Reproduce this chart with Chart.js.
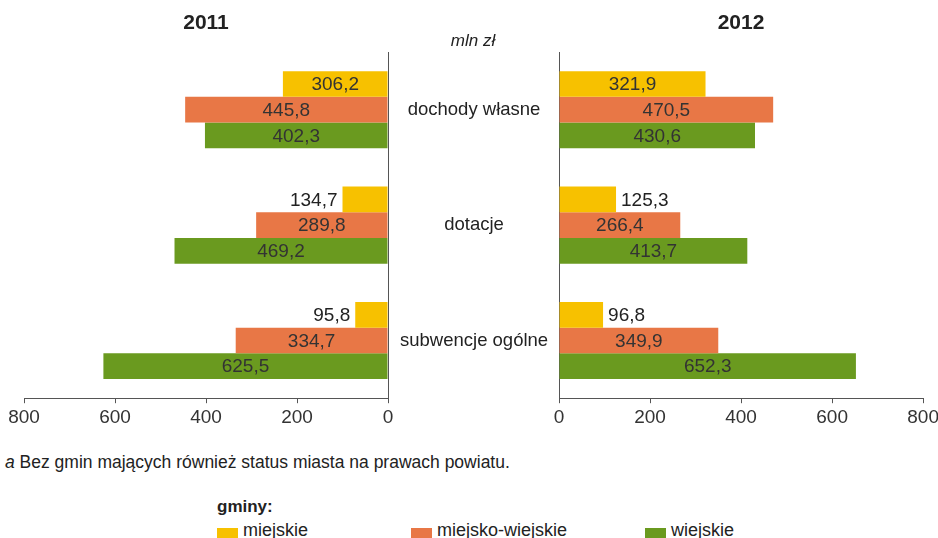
<!DOCTYPE html>
<html lang="pl">
<head>
<meta charset="utf-8">
<title>Dochody gmin 2011-2012</title>
<script src="https://cdn.jsdelivr.net/npm/chart.js@4.4.1/dist/chart.umd.min.js"></script>
<style>
  body { margin: 0; background: #fff; font-family: Arial, "Liberation Sans", sans-serif; color: #222; }
  #wrap { position: relative; width: 938px; height: 538px; overflow: hidden; }
  .abs { position: absolute; white-space: nowrap; }
  .rok { font-weight: bold; font-size: 21px; line-height: 24px; width: 120px; text-align: center; top: 10px; }
  .kw { display: inline-block; width: 21px; height: 12px; vertical-align: -4px; margin-right: 5px; }
</style>
</head>
<body>
<div id="wrap">
  <canvas id="wykres2011" class="abs" style="left:0;top:0" width="560" height="440"></canvas>
  <canvas id="wykres2012" class="abs" style="left:540px;top:0" width="402" height="440"></canvas>
  <div class="abs rok" style="left:146px">2011</div>
  <div class="abs rok" style="left:681px">2012</div>
  <div class="abs" style="left:413px;width:120px;text-align:center;top:31px;font-size:17px;line-height:20px;font-style:italic">mln zł</div>
  <div class="abs" style="left:5px;top:452px;font-size:17.5px;line-height:20px"><i>a</i> Bez gmin mających również status miasta na prawach powiatu.</div>
  <div class="abs" style="left:217px;top:497px;font-size:17px;line-height:20px;font-weight:bold">gminy:</div>
  <div id="legenda"></div>
</div>
<script>
// dane (mln zł)
const kategorie = ['dochody własne', 'dotacje', 'subwencje ogólne'];
const serie = ['miejskie', 'miejsko-wiejskie', 'wiejskie'];
const kolory = ['#F7C100', '#E87746', '#6A9A1F'];

const miejskie2011 = [306.2, 134.7, 95.8];
const miejskoWiejskie2011 = [445.8, 289.8, 334.7];
const wiejskie2011 = [402.3, 469.2, 625.5];

const miejskie2012 = [321.9, 125.3, 96.8];
const miejskoWiejskie2012 = [470.5, 266.4, 349.9];
const wiejskie2012 = [430.6, 413.7, 652.3];

// w oryginale zolte slupki 2011 sa krotsze niz podpisane wartosci,
// dlugosci
const miejskie2011Slupki = [231, 100, 72];

const osMin = 0, osMax = 800, osKrok = 200;

const FONT = 'Arial, "Liberation Sans", sans-serif';

// legenda
const legendaX = [217, 411, 645];
document.getElementById('legenda').innerHTML = serie.map((s, i) =>
  `<div class="abs" style="left:${legendaX[i]}px;top:520px;font-size:18px;line-height:20px">` +
  `<span class="kw" style="background:${kolory[i]}"></span>${s}</div>`).join('');

// wartosci na slupkach
const etykiety = {
  id: 'etykiety',
  afterDatasetsDraw(chart) {
    const ctx = chart.ctx;
    ctx.save();
    ctx.font = '19px ' + FONT;
    ctx.textBaseline = 'middle';
    chart.data.datasets.forEach((ds, i) => {
      chart.getDatasetMeta(i).data.forEach((bar, j) => {
        const txt = ds.podpisy[j].toFixed(1).replace('.', ',');
        const w = ctx.measureText(txt).width;
        const len = Math.abs(bar.x - bar.base);
        const dir = bar.x > bar.base ? 1 : -1;
        if (len < w + 20) {
          ctx.fillStyle = '#222';
          ctx.textAlign = dir > 0 ? 'left' : 'right';
          ctx.fillText(txt, bar.x + dir * 5, bar.y + 1);
        } else {
          ctx.fillStyle = '#333';
          ctx.textAlign = 'center';
          ctx.fillText(txt, (bar.x + bar.base) / 2, bar.y + 1);
        }
      });
    });
    ctx.restore();
  }
};

function rysuj(id, slupki, podpisy, lewy) {
  const ctx = document.getElementById(id).getContext('2d');
  new Chart(ctx, {
    type: 'bar',
    data: {
      labels: kategorie,
      datasets: slupki.map((d, i) => ({
        label: serie[i],
        data: d,
        podpisy: podpisy[i],
        backgroundColor: kolory[i],
        categoryPercentage: 0.668,
        barPercentage: 1
      }))
    },
    options: {
      indexAxis: 'y',
      responsive: false,
      animation: false,
      layout: {
        padding: lewy ? { top: 52, left: 24, right: 1, bottom: 8 } : { top: 52, left: 19, right: 15, bottom: 8 }
      },
      plugins: { legend: { display: false }, tooltip: { enabled: false } },
      scales: {
        x: {
          reverse: lewy,
          min: osMin,
          max: osMax,
          ticks: { stepSize: osKrok, color: '#333', padding: 3, font: { size: 19, family: FONT } },
          grid: { drawOnChartArea: false, tickLength: 5, color: '#555' },
          border: { color: '#555', width: 1 }
        },
        y: {
          position: lewy ? 'right' : 'left',
          grid: { display: false, drawTicks: false },
          border: { color: '#555', width: 1 },
          ticks: { display: lewy, crossAlign: 'center', padding: 12, color: '#222', font: { size: 18.5, family: FONT } },
          afterFit: s => { s.width = lewy ? 171 : 0; }
        }
      }
    },
    plugins: [etykiety]
  });
}

rysuj('wykres2011',
  [miejskie2011Slupki, miejskoWiejskie2011, wiejskie2011],
  [miejskie2011, miejskoWiejskie2011, wiejskie2011], true);
rysuj('wykres2012',
  [miejskie2012, miejskoWiejskie2012, wiejskie2012],
  [miejskie2012, miejskoWiejskie2012, wiejskie2012], false);
</script>
</body>
</html>
